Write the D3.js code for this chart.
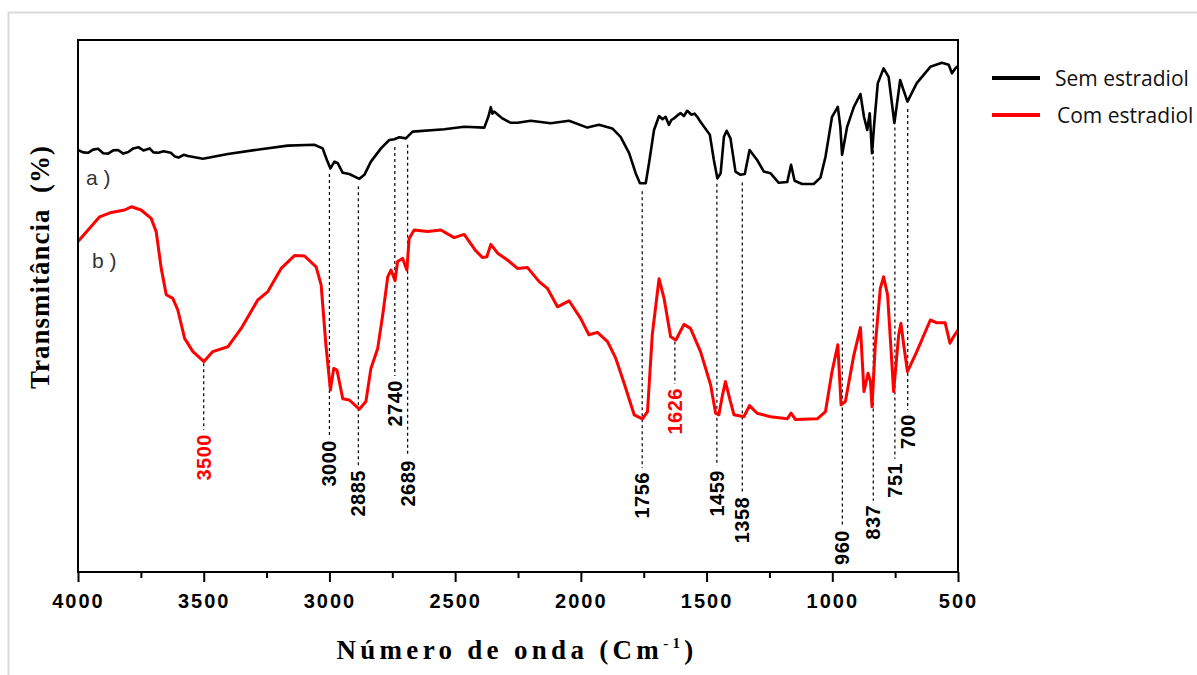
<!DOCTYPE html>
<html>
<head>
<meta charset="UTF-8">
<script src="https://cdn.jsdelivr.net/npm/d3@7"></script>
<style>
  body { margin: 0; background: #fff; }
  svg { display: block; }
  .tick-label { font-family: "Liberation Sans", Arial, sans-serif; font-weight: bold; font-size: 20px; letter-spacing: 2px; }
  .peak-label { font-family: "Liberation Sans", Arial, sans-serif; font-weight: bold; font-size: 20px; letter-spacing: 0.5px; }
  .axis-title { font-family: "Liberation Serif", "Times New Roman", serif; font-weight: bold; }
  .legend-text { font-family: "Open Sans", "Liberation Sans", sans-serif; font-size: 21px; fill: #111; }
  .curve-tag { font-family: "Liberation Sans", Arial, sans-serif; font-size: 21px; fill: #333; }
</style>
</head>
<body>
<div id="chart"></div>
<script>
// wavenumber (cm-1) vs transmittance (arbitrary offset %)
var semEstradiol = [
  [4000,105.5],[3980,104.9],[3960,104.8],[3940,105.6],[3920,105.8],[3900,104.7],[3880,104.6],
  [3860,105.4],[3841,105.5],[3820,104.6],[3800,105.0],[3780,105.9],[3760,106.2],[3740,105.4],
  [3715,105.9],[3700,104.9],[3680,104.8],[3660,105.2],[3631,104.8],[3615,103.9],[3600,103.6],
  [3580,104.3],[3563,104.0],[3503,103.3],[3404,104.5],[3273,105.7],[3166,106.6],[3060,106.8],
  [3027,105.9],[3010,103.0],[2996,100.9],[2980,102.6],[2967,102.2],[2947,99.8],[2921,99.5],
  [2881,98.3],[2861,99.3],[2835,102.6],[2795,105.9],[2762,108.0],[2742,108.2],[2722,108.7],
  [2696,108.4],[2669,110.1],[2543,110.7],[2464,111.3],[2384,111.1],[2368,113.8],[2358,116.2],
  [2352,114.6],[2345,115.1],[2312,113.4],[2279,112.3],[2252,112.3],[2199,112.8],[2120,112.2],
  [2047,112.8],[1974,111.1],[1928,111.8],[1875,110.9],[1842,108.8],[1808,104.7],[1782,99.7],
  [1765,97.2],[1742,97.2],[1729,102.2],[1709,110.5],[1689,114.0],[1675,113.2],[1663,113.8],
  [1650,111.8],[1640,113.0],[1630,113.4],[1615,114.2],[1603,114.7],[1590,114.0],[1577,115.3],
  [1560,114.3],[1548,114.6],[1537,113.8],[1525,112.6],[1510,111.3],[1487,109.3],[1471,103.0],
  [1457,98.4],[1444,99.7],[1431,108.8],[1420,110.3],[1405,108.4],[1385,100.1],[1365,99.3],
  [1348,99.5],[1329,105.5],[1299,103.0],[1272,100.1],[1246,99.7],[1213,97.3],[1179,97.5],
  [1164,101.8],[1150,97.8],[1120,97.0],[1074,97.0],[1047,98.6],[1027,103.8],[1001,113.8],
  [978,116.3],[968,111.3],[961,104.3],[941,111.3],[914,116.3],[888,119.5],[874,113.8],
  [861,110.5],[851,114.7],[842,104.7],[833,112.2],[819,122.2],[796,125.9],[776,123.8],
  [753,112.2],[730,123.0],[719,120.9],[701,117.6],[664,122.2],[610,126.3],[564,127.3],
  [537,126.8],[524,124.7],[511,125.9],[500,126.5]
];

var comEstradiol = [
  [4000,82.6],[3960,85.5],[3914,88.8],[3868,89.9],[3815,90.5],[3788,91.3],[3749,90.5],
  [3709,88.4],[3689,85.1],[3669,75.9],[3649,69.3],[3623,68.4],[3603,65.5],[3576,58.4],
  [3543,55.1],[3499,52.6],[3464,55.1],[3404,56.3],[3351,60.9],[3285,68.0],[3245,70.1],
  [3192,75.9],[3139,79.1],[3099,79.0],[3053,76.3],[3033,71.8],[3014,56.8],[2996,45.5],
  [2983,50.9],[2970,50.5],[2947,43.3],[2921,43.0],[2881,40.7],[2855,42.6],[2835,50.9],
  [2808,55.9],[2788,64.3],[2768,73.8],[2755,75.5],[2739,72.8],[2729,77.6],[2709,78.4],
  [2692,75.5],[2683,83.4],[2663,85.5],[2610,85.1],[2557,85.5],[2504,83.6],[2464,84.4],
  [2418,80.3],[2391,78.6],[2374,78.8],[2358,81.9],[2331,79.7],[2292,78.0],[2252,75.9],
  [2212,76.1],[2166,72.6],[2133,70.9],[2093,66.3],[2047,67.8],[2001,63.4],[1968,59.3],
  [1934,59.9],[1894,57.6],[1861,53.4],[1828,47.2],[1788,39.3],[1755,38.3],[1735,40.1],
  [1716,59.3],[1689,73.3],[1669,68.4],[1643,58.8],[1622,58.0],[1590,61.9],[1564,60.9],
  [1524,55.1],[1484,46.8],[1464,39.7],[1451,39.3],[1438,43.8],[1425,47.6],[1405,42.6],
  [1391,39.3],[1352,38.8],[1329,41.6],[1299,39.7],[1246,38.8],[1179,38.3],[1164,39.7],
  [1146,38.1],[1060,38.3],[1027,40.1],[1001,50.1],[978,56.8],[965,41.8],[948,42.6],
  [914,54.3],[888,61.1],[874,45.1],[858,49.7],[848,47.6],[842,41.3],[829,56.8],[809,70.9],
  [796,73.8],[780,69.3],[756,45.1],[736,59.3],[727,62.2],[716,56.8],[701,50.1],[664,55.1],
  [610,63.0],[584,62.3],[551,62.3],[532,57.2],[518,58.8],[500,60.5]
];

var xTicks = [4000, 3500, 3000, 2500, 2000, 1500, 1000, 500];
var xMinorTicks = [3750, 3250, 2750, 2250, 1750, 1250, 750];

var peakWn = [3500, 3000, 2885, 2740, 2689, 1756, 1626, 1459, 1358, 960, 837, 751, 700];
var peakLabels = ["3500", "3000", "2885", "2740", "2689", "1756", "1626", "1459", "1358", "960", "837", "751", "700"];
var peakSeries = ["com", "sem", "sem", "sem", "sem", "sem", "com", "sem", "sem", "sem", "sem", "sem", "sem"];
// transmittance level where each label starts (staggered)
var peakLabelLevel = [34.5, 33, 25.5, 48, 28, 25, 46, 25.5, 18.8, 10.5, 16.8, 27.3, 39.5];

var seriesNames = ["Sem estradiol", "Com estradiol"];
var seriesColors = ["#000000", "#ff0000"];

var width = 1197, height = 675;
var margin = { top: 40, right: 239, bottom: 103, left: 78 },
    w = width - margin.left - margin.right,
    h = height - margin.top - margin.bottom;

var svg = d3.select("#chart").append("svg")
    .attr("width", width)
    .attr("height", height);

// light outer frame
svg.append("path")
    .attr("d", "M8.5," + height + "V12.5H" + width)
    .attr("fill", "none")
    .attr("stroke", "#d9d9d9")
    .attr("stroke-width", 2);

var x = d3.scaleLinear().domain([4000, 500]).range([0, w]);
var y = d3.scaleLinear().domain([0, 133]).range([h, 0]);

var graph = svg.append("g")
    .attr("transform", "translate(" + margin.left + "," + margin.top + ")");

var line = d3.line()
    .x(function (d) { return x(d[0]); })
    .y(function (d) { return y(d[1]); });

function valueAt(data, wn) {
    for (var i = 0; i < data.length - 1; i++) {
        var a = data[i], b = data[i + 1];
        if (wn <= a[0] && wn >= b[0]) {
            var t = (a[0] - wn) / (a[0] - b[0]);
            return a[1] + t * (b[1] - a[1]);
        }
    }
    return data[data.length - 1][1];
}

// dashed peak markers
peakWn.forEach(function (wn, i) {
    var src = peakSeries[i] === "com" ? comEstradiol : semEstradiol;
    var yTop = y(valueAt(src, wn)) + (peakSeries[i] === "com" ? 2 : 8);
    var yLab = y(peakLabelLevel[i]);
    graph.append("line")
        .attr("x1", x(wn)).attr("x2", x(wn))
        .attr("y1", yTop).attr("y2", yLab - 4)
        .attr("stroke", "#000")
        .attr("stroke-width", 1.2)
        .attr("stroke-dasharray", "3,3");
    graph.append("text")
        .attr("class", "peak-label")
        .attr("transform", "translate(" + x(wn) + "," + yLab + ") rotate(-90)")
        .attr("text-anchor", "end")
        .attr("dominant-baseline", "central")
        .attr("fill", peakSeries[i] === "com" ? "#ff0000" : "#000")
        .text(peakLabels[i]);
});

// curves
graph.append("path")
    .attr("d", line(semEstradiol))
    .attr("fill", "none")
    .attr("stroke", seriesColors[0])
    .attr("stroke-width", 2.6)
    .attr("stroke-linejoin", "round");

graph.append("path")
    .attr("d", line(comEstradiol))
    .attr("fill", "none")
    .attr("stroke", seriesColors[1])
    .attr("stroke-width", 3)
    .attr("stroke-linejoin", "round");

graph.append("text").attr("class", "curve-tag")
    .attr("x", 8).attr("y", 137).attr("dominant-baseline", "central")
    .style("white-space", "pre").text("a )");
graph.append("text").attr("class", "curve-tag")
    .attr("x", 14).attr("y", 220).attr("dominant-baseline", "central")
    .style("white-space", "pre").text("b )");

// frame
graph.append("rect")
    .attr("width", w).attr("height", h)
    .attr("fill", "none")
    .attr("stroke", "#000")
    .attr("stroke-width", 2);

// x axis
var xAxis = graph.append("g")
    .attr("transform", "translate(0," + h + ")")
    .call(d3.axisBottom(x).tickValues(xTicks).tickSize(10).tickPadding(10).tickFormat(d3.format("d")));
xAxis.select(".domain").remove();
xAxis.selectAll("line").attr("stroke-width", 2);
xAxis.selectAll("text").attr("class", "tick-label").attr("fill", "#000").attr("dy", "0.8em");

var xMinor = graph.append("g")
    .attr("transform", "translate(0," + h + ")")
    .call(d3.axisBottom(x).tickValues(xMinorTicks).tickSize(6).tickFormat(""));
xMinor.select(".domain").remove();
xMinor.selectAll("line").attr("stroke-width", 2);

// axis titles
var xt = svg.append("text")
    .attr("class", "axis-title")
    .attr("x", margin.left + w / 2 - 1)
    .attr("y", 659)
    .attr("text-anchor", "middle")
    .style("font-size", "27px")
    .style("letter-spacing", "4.3px");
xt.append("tspan").text("Número de onda (Cm");
xt.append("tspan").attr("dy", -11).style("font-size", "15px").text("-1");
xt.append("tspan").attr("dy", 11).text(")");

svg.append("text")
    .attr("class", "axis-title")
    .attr("transform", "translate(40,267) rotate(-90)")
    .attr("text-anchor", "middle")
    .attr("dominant-baseline", "central")
    .style("font-size", "27px")
    .style("letter-spacing", "1px")
    .style("white-space", "pre")
    .text("Transmitância  (%)");

// legend
seriesNames.forEach(function (name, i) {
    var ly = 78 + i * 37;
    svg.append("line")
        .attr("x1", 992).attr("x2", 1040)
        .attr("y1", ly).attr("y2", ly)
        .attr("stroke", seriesColors[i])
        .attr("stroke-width", 4);
    svg.append("text")
        .attr("class", "legend-text")
        .attr("x", 1055 + 2 * i)
        .attr("y", ly)
        .attr("dominant-baseline", "central")
        .text(name);
});
</script>
</body>
</html>
